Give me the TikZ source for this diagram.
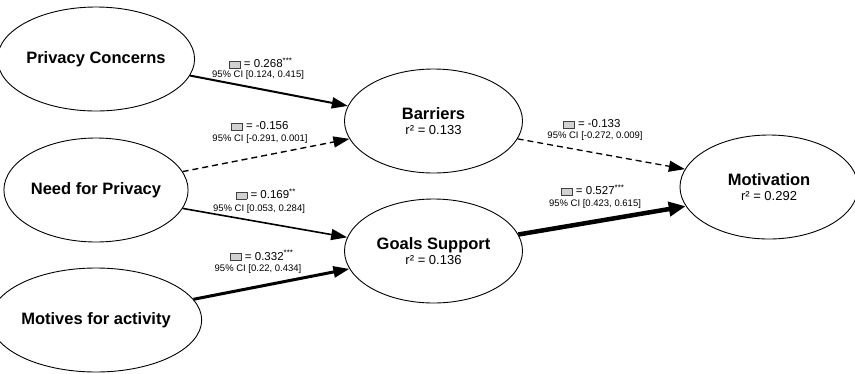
\documentclass[tikz,border=0pt]{standalone}
\usepackage{fontspec}
\setmainfont{Liberation Sans}
\usetikzlibrary{arrows.meta,shapes.geometric}

\newcommand{\titlefont}{\fontsize{16.5}{17}\selectfont\bfseries}
\newcommand{\rsqfont}{\fontsize{13}{14}\selectfont\mdseries}
\newcommand{\coefmark}{{\setlength{\fboxsep}{0pt}\setlength{\fboxrule}{0.5pt}%
  \fcolorbox{black!75}{black!18}{\rule{0pt}{0.55em}\rule{0.9em}{0pt}}}}

\begin{document}
\begin{tikzpicture}[x=1pt, y=-1pt,
    var/.style={ellipse, draw, line width=0.9pt, minimum width=178pt,
                minimum height=104pt, inner sep=0pt, align=center,
                font=\titlefont},
    coef/.style={anchor=base, inner sep=0pt, font=\fontsize{11.5}{12}\selectfont},
    ci/.style={anchor=base, inner sep=0pt, font=\fontsize{9.5}{10}\selectfont},
    effect/.style={-{Triangle[length=16pt,width=11pt]}},
    weak/.style={-{Triangle[length=16pt,width=11pt]}, dash pattern=on 6pt off 4pt}
  ]
    \useasboundingbox (0,0) rectangle (855,373);

    % latent variables
    \node[var] (pc)  at (96,59)    {Privacy Concerns};
    \node[var] (nfp) at (96,190)   {Need for Privacy};
    \node[var] (mfa) at (96,320)   {Motives for activity};
    \node[var] (bar) at (433.5,121) {Barriers\\[-2pt]{\rsqfont r² = 0.133}};
    \node[var] (gs)  at (433.5,251) {Goals Support\\[-2pt]{\rsqfont r² = 0.136}};
    \node[var] (mot) at (769,187)  {Motivation\\[-2pt]{\rsqfont r² = 0.292}};

    % paths
    \draw[effect, line width=2pt]   (pc.-10)  -- (bar.170);
    \draw[weak, line width=1.4pt]   (nfp.12)  -- (bar.192);
    \draw[effect, line width=1.6pt] (nfp.-12) -- (gs.171);
    \draw[effect, line width=3pt]   (mfa.12)  -- (gs.192);
    \draw[weak, line width=1.3pt]   (bar.-12) -- (mot.168);
    \draw[effect, line width=4.5pt, -{Triangle[length=17pt,width=14pt]}] (gs.11) -- (mot.193);

    % coefficients
    \node[coef] (c1) at (261,67.5)  {\coefmark{} = 0.268\textsuperscript{***}};
    \node[ci]   (i1) at (258,77.5)  {95\% CI [0.124, 0.415]};
    \node[coef] (c2) at (260,129.5) {\coefmark{} = -0.156};
    \node[ci]   (i2) at (260,141.5) {95\% CI [-0.291, 0.001]};
    \node[coef] (c3) at (266,198.5) {\coefmark{} = 0.169\textsuperscript{**}};
    \node[ci]   (i3) at (259,211.5) {95\% CI [0.053, 0.284]};
    \node[coef] (c4) at (262,260)   {\coefmark{} = 0.332\textsuperscript{***}};
    \node[ci]   (i4) at (258,271.5) {95\% CI [0.22, 0.434]};
    \node[coef] (c5) at (592,127.5) {\coefmark{} = -0.133};
    \node[ci]   (i5) at (595,138.5) {95\% CI [-0.272, 0.009]};
    \node[coef] (c6) at (593,194.5) {\coefmark{} = 0.527\textsuperscript{***}};
    \node[ci]   (i6) at (595,206.5) {95\% CI [0.423, 0.615]};
  \end{tikzpicture}
\end{document}
